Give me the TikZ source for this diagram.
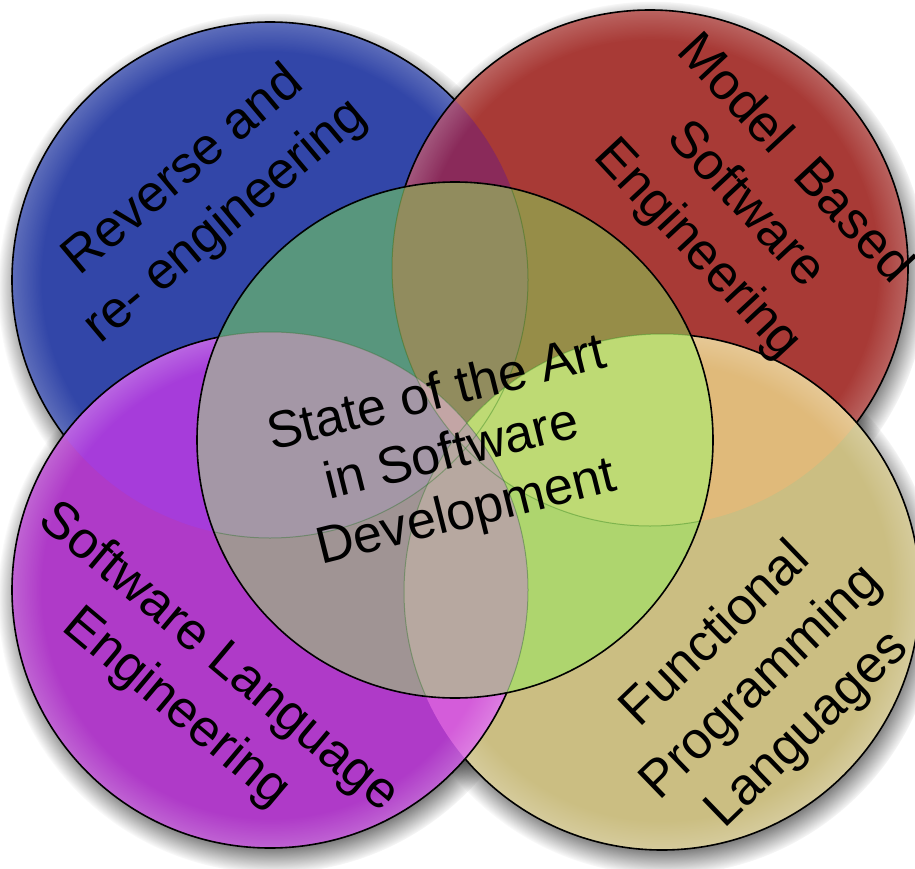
\documentclass[tikz,border=0pt]{standalone}
\usepackage{fontspec}
\setmainfont{Liberation Sans}
\usetikzlibrary{fadings}

\definecolor{revBlue}{RGB}{50,70,168}
\definecolor{modRed}{RGB}{168,58,54}
\definecolor{funTan}{RGB}{203,190,130}
\definecolor{lngViolet}{RGB}{175,58,200}
\definecolor{revMod}{RGB}{138,42,90}
\definecolor{modFun}{RGB}{224,186,122}
\definecolor{revLng}{RGB}{166,60,218}
\definecolor{lngFun}{RGB}{212,92,218}
\definecolor{artBase}{RGB}{150,215,110}
\definecolor{artRev}{RGB}{88,150,125}
\definecolor{artMod}{RGB}{150,141,72}
\definecolor{artRevMod}{RGB}{145,140,94}
\definecolor{artFun}{RGB}{174,213,110}
\definecolor{artModFun}{RGB}{190,218,116}
\definecolor{artLng}{RGB}{160,148,148}
\definecolor{artRevLng}{RGB}{164,151,166}
\definecolor{artPink}{RGB}{195,165,165}
\definecolor{artLngFun}{RGB}{183,168,160}

\def\R{258}

% light band just inside a circle's edge
\pgfdeclareradialshading{rimglowshade}{\pgfpointorigin}{%
  color(0bp)=(pgftransparent!100); color(22bp)=(pgftransparent!100);
  color(25bp)=(pgftransparent!0); color(50bp)=(pgftransparent!0)}
\pgfdeclarefading{rim glow}{\pgfuseshading{rimglowshade}}

\tikzset{
  rim/.style={draw=black, line width=1.6pt},
  seam/.style={draw=green!40!black, draw opacity=0.3, line width=1pt},
  halo/.style={fill=black, fill opacity=0.8, path fading=circle with fuzzy edge 15 percent},
  glow/.style={fill=white, fill opacity=0.22, path fading=rim glow},
  area label/.style={align=center, inner sep=0pt, font=\fontsize{52}{66}\selectfont},
  core label/.style={align=center, inner sep=0pt, font=\fontsize{52}{61}\selectfont},
}

\begin{document}
\begin{tikzpicture}[x=1pt, y=-1pt]
  \useasboundingbox (0,0) rectangle (915,869);
  \clip (0,0) rectangle (915,869);

  \coordinate (rev) at (270,280);
  \coordinate (mod) at (650,268);
  \coordinate (lng) at (270,590);
  \coordinate (fun) at (662,592);
  \coordinate (art) at (455,440);

  % soft shadows
  \foreach \c in {rev,mod,lng,fun}
    \fill[halo] ([shift={(3,8)}]\c) circle (275);

  % outer circles, bottom to top
  \fill[revBlue] (rev) circle (\R);
  \fill[glow] (rev) circle (\R);
  \draw[rim] (rev) circle (\R);

  \fill[modRed] (mod) circle (\R);
  \begin{scope}
    \clip (rev) circle (\R);
    \fill[revMod] (mod) circle (\R);
  \end{scope}
  \fill[glow] (mod) circle (\R);
  \draw[rim] (mod) circle (\R);

  \fill[funTan] (fun) circle (\R);
  \begin{scope}
    \clip (mod) circle (\R);
    \fill[modFun] (fun) circle (\R);
  \end{scope}
  \fill[glow] (fun) circle (\R);
  \draw[rim] (fun) circle (\R);

  \fill[lngViolet] (lng) circle (\R);
  \begin{scope}
    \clip (rev) circle (\R);
    \fill[revLng] (lng) circle (\R);
  \end{scope}
  \begin{scope}
    \clip (fun) circle (\R);
    \fill[lngFun] (lng) circle (\R);
  \end{scope}
  \fill[glow] (lng) circle (\R);
  \draw[rim] (lng) circle (\R);

  % centre circle
  \begin{scope}
    \clip (art) circle (\R);
    \fill[artBase] (art) circle (\R);
    \fill[artRev] (rev) circle (\R);
    \fill[artMod] (mod) circle (\R);
    \begin{scope}
      \clip (rev) circle (\R);
      \fill[artRevMod] (mod) circle (\R);
    \end{scope}
    \fill[artFun] (fun) circle (\R);
    \begin{scope}
      \clip (mod) circle (\R);
      \fill[artModFun] (fun) circle (\R);
    \end{scope}
    \fill[artLng] (lng) circle (\R);
    \begin{scope}
      \clip (rev) circle (\R);
      \fill[artRevLng] (lng) circle (\R);
      \clip (mod) circle (\R);
      \fill[artPink] (lng) circle (\R);
    \end{scope}
    \begin{scope}
      \clip (fun) circle (\R);
      \fill[artLngFun] (lng) circle (\R);
    \end{scope}
    \foreach \c in {rev,mod,lng,fun}
      \draw[seam] (\c) circle (\R);
  \end{scope}
  \draw[rim] (art) circle (\R);

  % labels
  \node[area label, rotate=40] (revtext) at (205,197) {Reverse and\\re- engineering};
  \node[area label, rotate=-47] (modtext) at (745,205) {Model~ Based\\Software\\Engineering};
  \node[area label, rotate=-40] (lngtext) at (197,683) {Software Language\\Engineering};
  \node[area label, rotate=44] (funtext) at (762,683) {Functional\\Programming\\Languages};
  \node[core label, rotate=14] (arttext) at (452,455) {State of the Art\\in Software\\Development};
\end{tikzpicture}
\end{document}
